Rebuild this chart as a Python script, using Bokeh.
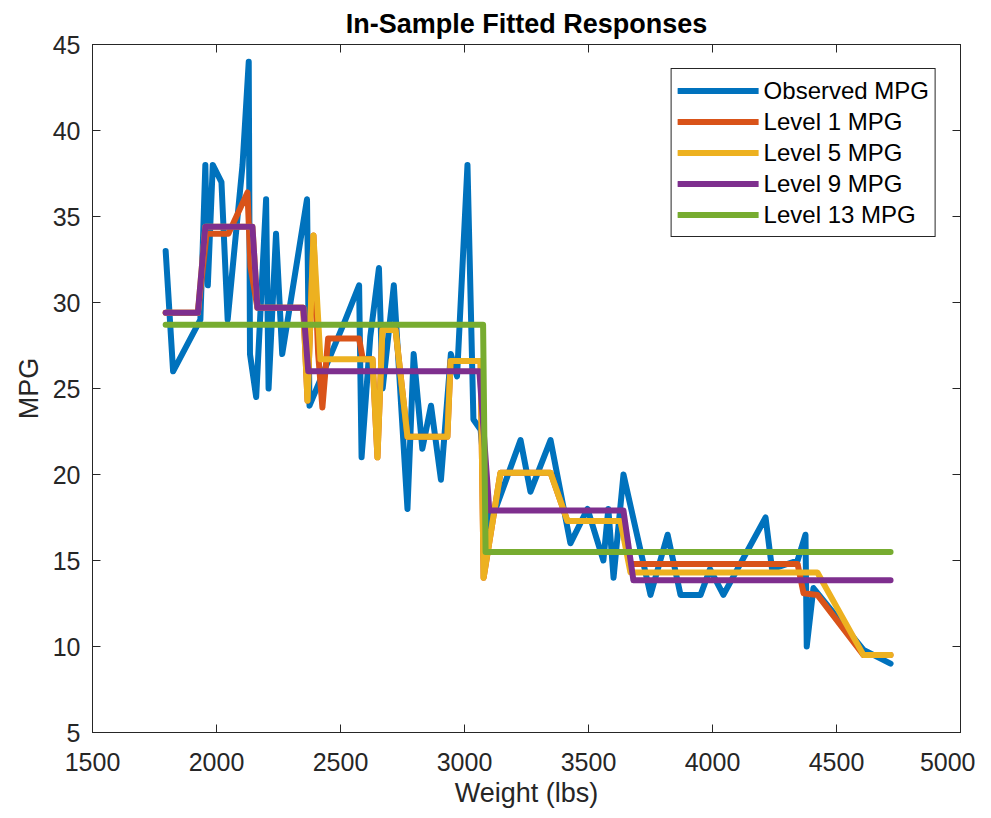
from bokeh.plotting import figure
from bokeh.models import LinearAxis, Range1d, FixedTicker, Legend, LegendItem
from bokeh.embed import file_html
from bokeh.resources import INLINE

# ---- data ----
obs_weight = [1795, 1825, 1935, 1955, 1965, 1985, 2020, 2045, 2105, 2130, 2135, 2160,
              2200, 2210, 2240, 2265, 2365, 2375, 2520, 2575, 2585, 2620, 2655, 2670,
              2715, 2770, 2795, 2830, 2865, 2905, 2945, 2970, 3012, 3036, 3065, 3100,
              3226, 3266, 3347, 3427, 3496, 3560, 3580, 3601, 3641, 3750, 3819, 3871,
              3952, 3990, 4044, 4214, 4240, 4343, 4375, 4380, 4407, 4609, 4718]
obs_mpg = [33, 26, 29, 38, 31, 38, 37, 29, 38, 44, 27, 24.5,
           36, 25, 34, 27, 36, 24, 29, 31, 21, 28, 32, 25,
           31, 18, 27, 21.5, 24, 19.7, 27, 25.7, 38, 23.2, 22.6, 17,
           22, 19, 22, 16, 18, 15, 18, 14, 20, 13, 16.5, 13,
           13, 14.5, 13, 17.5, 14.5, 15, 16.5, 10, 13.4, 9.8, 9]

lvl1_weight = [1795, 1925, 1960, 2048, 2125, 2137, 2165, 2350, 2367, 2391, 2410, 2427,
               2450, 2575, 2590, 2629, 2649, 2669, 2722, 2770, 2931, 2944, 3065, 3077,
               3145, 3347, 3415, 3629, 3669, 4343, 4367, 4423, 4609, 4718]
lvl1_mpg = [29.4, 29.4, 34.0, 34.0, 36.4, 32.1, 29.7, 29.7, 24.3, 33.9, 27.0, 23.9,
            27.9, 27.9, 26.7, 26.7, 21.0, 28.4, 28.4, 22.2, 22.2, 26.6, 26.6, 14.0,
            20.1, 20.1, 17.3, 17.3, 14.8, 14.8, 13.1, 13.0, 9.5, 9.5]

lvl5_weight = [1795, 1925, 1955, 2145, 2165, 2350, 2367, 2391, 2419, 2629, 2649, 2669,
               2722, 2770, 2931, 2944, 3065, 3077, 3145, 3347, 3415, 3629, 3669, 4423,
               4609, 4718]
lvl5_mpg = [29.4, 29.4, 34.4, 34.4, 29.7, 29.7, 24.3, 33.9, 26.7, 26.7, 21.0, 28.4,
            28.4, 22.2, 22.2, 26.6, 26.6, 14.0, 20.1, 20.1, 17.3, 17.3, 14.3, 14.3,
            9.5, 9.5]

lvl9_weight = [1795, 1925, 1955, 2145, 2165, 2350, 2370, 3060, 3100, 3641, 3681, 4718]
lvl9_mpg = [29.4, 29.4, 34.4, 34.4, 29.7, 29.7, 26.0, 26.0, 17.9, 17.9, 13.85, 13.85]

lvl13_weight = [1795, 3075, 3085, 4718]
lvl13_mpg = [28.7, 28.7, 15.5, 15.5]

x_ticks = [1500, 2000, 2500, 3000, 3500, 4000, 4500, 5000]
y_ticks = [5, 10, 15, 20, 25, 30, 35, 40, 45]

series_labels = ["Observed MPG", "Level 1 MPG", "Level 5 MPG", "Level 9 MPG", "Level 13 MPG"]
colors = ["#0072BD", "#D95319", "#EDB120", "#7E2F8E", "#77AC30"]

FONT = "Liberation Sans"
INK = "#262626"

p = figure(width=975, height=818, x_range=Range1d(1500, 5000), y_range=Range1d(5, 45),
           output_backend="svg", toolbar_location=None,
           min_border_left=92, min_border_right=15, min_border_top=44, min_border_bottom=86)

p.title.text = "In-Sample Fitted Responses"
p.title.align = "center"
p.title.text_font = FONT
p.title.text_font_size = "27px"
p.title.text_font_style = "bold"
p.title.text_color = "#000000"
p.title.standoff = 12

p.xgrid.visible = False
p.ygrid.visible = False
p.outline_line_color = INK
p.outline_line_alpha = 1.0
p.outline_line_width = 1

def style_axis(ax, ticks, show_labels=True):
    ax.ticker = FixedTicker(ticks=ticks)
    ax.major_tick_in = 8
    ax.major_tick_out = 0
    ax.minor_tick_line_color = None
    ax.axis_line_color = INK
    ax.major_tick_line_color = INK
    ax.major_label_text_font = FONT
    if show_labels:
        ax.major_label_text_color = INK
        ax.major_label_text_font_size = "25px"
    else:
        ax.major_label_text_color = None
        ax.major_label_text_font_size = "1px"
        ax.major_label_standoff = 0

style_axis(p.xaxis[0], x_ticks)
style_axis(p.yaxis[0], y_ticks)
p.xaxis.major_label_standoff = 20
p.yaxis.major_label_standoff = 12
p.xaxis.axis_label = "Weight (lbs)"
p.yaxis.axis_label = "MPG"
for ax in (p.xaxis[0], p.yaxis[0]):
    ax.axis_label_text_font = FONT
    ax.axis_label_text_font_size = "27px"
    ax.axis_label_text_font_style = "normal"
    ax.axis_label_text_color = INK
p.xaxis.axis_label_standoff = 4
p.yaxis.axis_label_standoff = 6

top_ax = LinearAxis()
style_axis(top_ax, x_ticks, show_labels=False)
p.add_layout(top_ax, "above")
right_ax = LinearAxis()
style_axis(right_ax, y_ticks, show_labels=False)
p.add_layout(right_ax, "right")

xs = [obs_weight, lvl1_weight, lvl5_weight, lvl9_weight, lvl13_weight]
ys = [obs_mpg, lvl1_mpg, lvl5_mpg, lvl9_mpg, lvl13_mpg]
renderers = []
for xv, yv, c in zip(xs, ys, colors):
    r = p.line(xv, yv, line_color=c, line_width=6, line_join="round", line_cap="round")
    renderers.append(r)

legend = Legend(items=[LegendItem(label=lab, renderers=[r]) for lab, r in zip(series_labels, renderers)],
                location="top_right")
legend.margin = 24
legend.padding = 6
legend.spacing = 0
legend.glyph_width = 81
legend.glyph_height = 31
legend.label_height = 31
legend.label_standoff = 5
legend.label_text_font = FONT
legend.label_text_font_size = "24px"
legend.label_text_color = "#000000"
legend.border_line_color = INK
legend.border_line_width = 1
legend.border_line_alpha = 1.0
legend.background_fill_color = "white"
legend.background_fill_alpha = 1.0
p.add_layout(legend)

open("out.html", "w").write(file_html(p, INLINE))
